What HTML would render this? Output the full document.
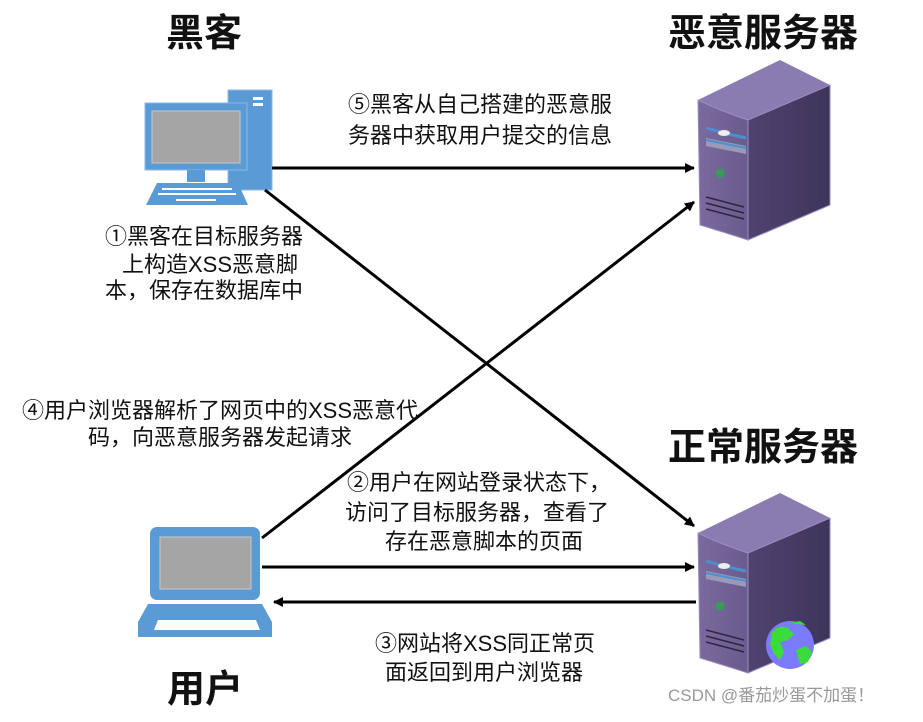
<!DOCTYPE html>
<html><head><meta charset="utf-8"><style>
html,body{margin:0;padding:0;background:#fff;}
svg text{font-family:"Liberation Sans","Noto Sans CJK SC",sans-serif;fill:#111;}
.l{font-size:22px;}
.t{font-size:38px;font-weight:bold;}
</style></head><body>
<svg width="923" height="717" viewBox="0 0 923 717" xmlns="http://www.w3.org/2000/svg">
<defs>
<marker id="ah" markerWidth="10" markerHeight="10" refX="9" refY="5" orient="auto" markerUnits="userSpaceOnUse" viewBox="0 0 10 10">
<path d="M0,0 L10,5 L0,10 z" fill="#000"/></marker>
<linearGradient id="sf" x1="0" x2="1"><stop offset="0" stop-color="#7a6a9e"/><stop offset="1" stop-color="#6a5b8d"/></linearGradient>
<linearGradient id="ss" x1="0" x2="1"><stop offset="0" stop-color="#4f4370"/><stop offset="1" stop-color="#3e3559"/></linearGradient>
<g id="server">
<path d="M0,0 L82,-40 L132,-15 L50,20 Q25,12 0,0z" fill="#8a7bb0"/>
<path d="M0,0 Q25,12 50,20 L50,140 Q25,132 2,125 Z" fill="url(#sf)" stroke="#9a8cc0" stroke-width="1"/>
<path d="M50,20 L132,-15 L132,105 L50,140 Z" fill="url(#ss)" stroke="#9a8cc0" stroke-width="1"/>
<path d="M8,28 Q28,34 48,38" stroke="#4a90d0" stroke-width="3" fill="none"/>
<ellipse cx="26" cy="33" rx="6" ry="3" fill="#eee"/>
<path d="M8,38 L48,46 L48,54 L8,46z" fill="#9a9ab8"/>
<path d="M8,40 L48,48" stroke="#4a90d0" stroke-width="2"/>
<circle cx="22" cy="73" r="4.5" fill="#3a9a5a"/>
<path d="M8,97 L46,107 M8,103 L46,113 M8,109 L46,119" stroke="#2d2640" stroke-width="1.5"/>
</g>
</defs>

<text class="t" x="166" y="46">黑客</text>
<text class="t" x="668" y="46">恶意服务器</text>
<text class="t" x="668" y="460">正常服务器</text>
<text class="t" x="167" y="702">用户</text>

<rect x="228" y="90" width="44" height="100" fill="#5b9bd5" stroke="#8ab8e6"/>
<rect x="253" y="97" width="10" height="3" fill="#fff"/><rect x="253" y="103" width="10" height="3" fill="#fff"/>
<rect x="145" y="103" width="102" height="67" fill="#5b9bd5" stroke="#8ab8e6"/>
<rect x="152" y="111" width="88" height="52" fill="#a5a5a5" stroke="#c8c8c8"/>
<rect x="187" y="170" width="18" height="12" fill="#5b9bd5"/>
<path d="M157,183 L238,183 L248,205 L146,205z" fill="#5b9bd5"/>
<g fill="#fff"><rect x="162" y="188" width="70" height="2"/><rect x="158" y="193" width="78" height="2"/><rect x="176" y="199" width="40" height="2"/></g>

<rect x="150" y="527" width="110" height="73" rx="7" fill="#5b9bd5"/>
<rect x="160" y="537" width="91" height="52" fill="#a5a5a5" stroke="#c8c8c8"/>
<path d="M148,604 L262,604 L272,622 L272,637 L138,637 L138,622z" fill="#5b9bd5"/>
<path d="M158,620 L256,620 L260,630 L154,630z" fill="#fff"/>

<use href="#server" x="698" y="100"/>
<use href="#server" x="698" y="533"/>
<circle cx="790" cy="645" r="24" fill="#7b7bff"/>
<path d="M772,632 q8,-8 16,-4 l6,6 -6,6 -8,2 4,10 -4,8 -6,-6 -4,-10z M796,650 l10,-4 6,6 -4,10 -8,2z M790,623 l10,-2 6,4z" fill="#3adc3a"/>

<g stroke="#000" stroke-width="3" fill="none">
<line x1="272" y1="168" x2="694" y2="168" marker-end="url(#ah)"/>
<line x1="265" y1="190" x2="694" y2="526" marker-end="url(#ah)"/>
<line x1="262" y1="538" x2="694" y2="202" marker-end="url(#ah)"/>
<line x1="262" y1="567" x2="694" y2="567" marker-end="url(#ah)"/>
<line x1="696" y1="602" x2="274" y2="602" marker-end="url(#ah)"/>
</g>

<text class="l" x="348" y="112">⑤黑客从自己搭建的恶意服</text>
<text class="l" x="348" y="143">务器中获取用户提交的信息</text>
<text class="l" x="105" y="244">①黑客在目标服务器</text>
<text class="l" x="122" y="272">上构造XSS恶意脚</text>
<text class="l" x="105" y="298">本，保存在数据库中</text>
<text class="l" x="22" y="418">④用户浏览器解析了网页中的XSS恶意代</text>
<text class="l" x="88" y="445">码，向恶意服务器发起请求</text>
<text class="l" x="347" y="490">②用户在网站登录状态下，</text>
<text class="l" x="345" y="520">访问了目标服务器，查看了</text>
<text class="l" x="385" y="549">存在恶意脚本的页面</text>
<text class="l" x="375" y="651">③网站将XSS同正常页</text>
<text class="l" x="385" y="680">面返回到用户浏览器</text>
<text x="668" y="701" font-size="17" style="fill:#999">CSDN @番茄炒蛋不加蛋！</text>
</svg>
</body></html>
